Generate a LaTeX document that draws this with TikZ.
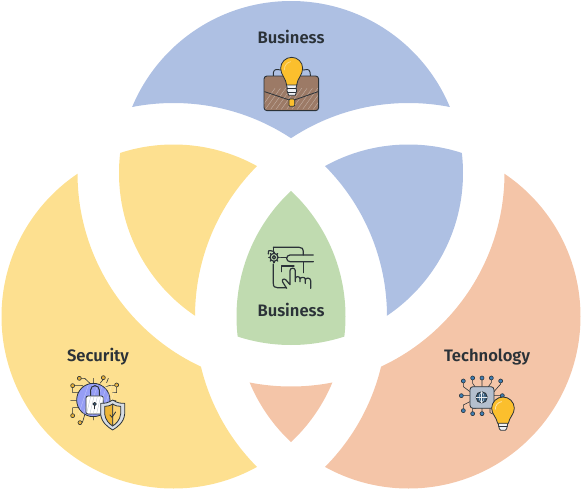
\documentclass[tikz,border=0pt]{standalone}
\usepackage{fontspec}
\setmainfont{Fira Sans}[BoldFont={Fira Sans SemiBold}]
\definecolor{cblue}{HTML}{AEC0E3}
\definecolor{cyel}{HTML}{FDE090}
\definecolor{corg}{HTML}{F4C5A8}
\definecolor{cgrn}{HTML}{C0DBB0}
\definecolor{ink}{HTML}{2B3238}
\definecolor{bulb}{HTML}{FBBF2D}
\definecolor{brown}{HTML}{9C7A66}
\definecolor{chip}{HTML}{B4BFCE}
\definecolor{netb}{HTML}{3F7FB5}
\newcommand{\inT}{\clip (291,173) circle (172);}
\newcommand{\inL}{\clip (173.5,316.5) circle (172);}
\newcommand{\inR}{\clip (408.5,316.5) circle (172);}
\newcommand{\outT}{\clip (-5,-5) rectangle (590,495) (291,173) circle (213.5);}
\newcommand{\outL}{\clip (-5,-5) rectangle (590,495) (173.5,316.5) circle (213.5);}
\newcommand{\outR}{\clip (-5,-5) rectangle (590,495) (408.5,316.5) circle (213.5);}
\newcommand{\allfill}[1]{\fill[#1] (-5,-5) rectangle (590,495);}
\tikzset{
 lbl/.style={font=\fontsize{16.6}{18}\selectfont\bfseries,text=ink,inner sep=0pt,anchor=center},
 icon/.style={x=0.3333pt,y=-0.3333pt,line join=round,line cap=round},
 ln/.style={draw=ink,line width=0.8pt},
 dot/.style={draw=ink,line width=0.6pt,fill=netb},
 hatch/.style={draw=white,line width=0.4pt,opacity=0.4},
 thin line/.style={draw=ink,line width=1.2pt}
}
\begin{document}
\begin{tikzpicture}[x=1pt,y=-1pt]
\useasboundingbox (0,0) rectangle (582,490);
% lobes
\begin{scope}[even odd rule]\inT\outL\outR\allfill{cblue}\end{scope}
\begin{scope}[even odd rule]\inT\inR\outL\allfill{cblue}\end{scope}
\begin{scope}[even odd rule]\inL\outT\outR\allfill{cyel}\end{scope}
\begin{scope}[even odd rule]\inL\inT\outR\allfill{cyel}\end{scope}
\begin{scope}[even odd rule]\inR\outT\outL\allfill{corg}\end{scope}
\begin{scope}[even odd rule]\inL\inR\outT\allfill{corg}\end{scope}
\begin{scope}\inT\inL\inR\allfill{cgrn}\end{scope}
% labels
\node[lbl] (lbusinessa) at (291,37) {Business};
\node[lbl] (lbusinessb) at (291,310) {Business};
\node[lbl] (lsecurity) at (98,357) {Security};
\node[lbl] (ltech) at (487,357.5) {Technology};
% briefcase icon
\begin{scope}[shift={(240,20)},icon]
 \draw[ln,line width=0.9pt] (100,172) -- (100,158) .. controls (102,146) and (112,148) .. (122,150);
 \draw[ln,line width=0.9pt] (212,172) -- (210,156) .. controls (208,146) and (198,148) .. (190,150);
 \begin{scope}
  \clip[rounded corners=3pt] (72,168) rectangle (236,272);
  \fill[brown] (72,168) rectangle (236,272);
  \foreach \k in {60,76,...,280}{
   \draw[hatch] (\k,268) -- (\k+45,205);
  }
 \end{scope}
 \draw[ln,line width=0.9pt,rounded corners=3pt] (72,168) rectangle (236,272);
 \draw[ln] (74,215) -- (148,240) (163,240) -- (234,215);
 \draw[ln,fill=bulb,rounded corners=1pt] (147,237) rectangle (164,259);
 \draw[ln,fill=white!80!chip] (139,192) -- (171,192) -- (168,205) -- (170,212) -- (166,226) -- (146,226) -- (141,212) -- (142,205) -- cycle;
 \draw[ln] (141,206) -- (169,206) (143,217) -- (167,217);
 \draw[ln,fill=bulb] (140,195) .. controls (138,175) and (122,165) .. (122,145) arc[start angle=180,end angle=360,radius=33] .. controls (188,165) and (172,175) .. (170,195) -- cycle;
 \draw[draw=white!40!bulb,line width=0.8pt] (133,150) .. controls (133,135) and (142,127) .. (152,125);
\end{scope}
% process icon
\begin{scope}[shift={(240,230)},icon]
 \draw[thin line] (102,82) circle (12);
 \draw[thin line] (102,82) circle (5);
 \foreach \a in {0,45,...,315}{\draw[thin line] (102,82) ++(\a:12) -- ++(\a:4);}
 \draw[thin line] (100,52) -- (178,52) .. controls (186,52) and (190,56) .. (190,64) -- (190,75);
 \draw[thin line] (100,64) .. controls (85,60) and (85,60) .. (85,72);
 \draw[thin line] (220,75) -- (150,75) arc[start angle=270,end angle=90,radius=10] -- (220,95);
 \draw[thin line] (122,82) -- (140,82);
 \draw[thin line] (190,95) -- (190,128);
 \draw[thin line] (100,102) -- (100,160) .. controls (100,170) and (104,173) .. (112,173) -- (138,173);
 \draw[thin line] (100,52) -- (100,64);
 \draw[thin line] (125,125) -- (125,108) -- (162,108);
 \draw[thin line] (140,175) -- (128,156) .. controls (124,148) and (132,144) .. (138,150) -- (150,164) -- (150,122) .. controls (150,112) and (166,112) .. (166,122) -- (166,155)
   -- (166,146) .. controls (166,138) and (180,138) .. (180,146) -- (180,155) -- (180,148) .. controls (180,140) and (196,140) .. (196,148) -- (196,160) -- (196,150) .. controls (196,142) and (212,142) .. (212,152) -- (212,175);
\end{scope}
% security icon
\begin{scope}[shift={(50,340)},icon]
 \draw[ln,line width=0.6pt]
  (120,130) -- (104,115) -- (94,115)
  (107,143) -- (95,136) -- (74,136)
  (86,158) -- (68,158) -- (68,143)
  (62,181) -- (80,181)
  (86,203) -- (68,203) -- (68,222)
  (105,222) -- (98,245) -- (96,248)
  (150,130) -- (160,118)
  (158,118) -- (162,113)
  (168,140) -- (180,136) -- (195,136)
  (130,115) -- (130,128)
  (175,115) -- (170,128)
  (188,158) -- (200,158) -- (200,140)
  (188,181) -- (198,181)
  (130,240) -- (130,232);
 \foreach \p in {(88,115),(68,137),(68,227),(90,248),(160,113),(200,135)}{\draw[dot,fill=bulb!80!brown] \p circle (6);}
 \draw[ln,fill=netb!30!blue!45!white] (130,180) circle (50);
 \foreach \k in {0,14,...,84}{\draw[hatch] (85+\k,225) -- (115+\k,135);}
 \draw[ln,line width=1pt] (122,170) -- (122,150) arc[start angle=180,end angle=360,radius=13] -- (148,170);
 \draw[ln,fill=white,rounded corners=2pt] (108,168) rectangle (160,222);
 \foreach \k in {0,10,...,40}{\draw[draw=chip,line width=0.3pt] (110+\k,220) -- (122+\k,170);}
 \draw[ln,fill=netb!60!ink] (134,192) circle (5);
 \draw[ln,draw=ink] (134,196) -- (134,206);
 \draw[ln,fill=chip!55!white] (188,180) .. controls (172,190) and (165,190) .. (152,190) -- (152,222) .. controls (154,248) and (175,262) .. (188,270) .. controls (201,262) and (222,248) .. (224,222) -- (224,190) .. controls (211,190) and (204,190) .. (188,180) -- cycle;
 \draw[ln,fill=bulb!85!brown] (188,192) .. controls (178,198) and (172,199) .. (164,199) -- (164,222) .. controls (166,240) and (178,252) .. (188,258) -- cycle;
 \draw[ln,fill=bulb!65!white] (188,192) .. controls (198,198) and (204,199) .. (212,199) -- (212,222) .. controls (210,240) and (198,252) .. (188,258) -- cycle;
 \draw[ln] (180,225) -- (186,232) -- (197,216);
\end{scope}
% technology icon
\begin{scope}[shift={(440,340)},icon]
 \draw[ln,line width=0.6pt]
  (70,123) -- (70,140) -- (90,155)
  (98,114) -- (98,130) -- (105,140)
  (126,114) -- (126,140)
  (154,114) -- (154,128) -- (145,140)
  (182,123) -- (182,132) -- (162,155)
  (64,167) -- (90,167)
  (70,212) -- (70,195) -- (90,185)
  (98,221) -- (98,205) -- (108,205)
  (126,221) -- (126,205)
  (187,167) -- (162,167)
  (150,205) -- (150,218) -- (158,222);
 \foreach \p in {(70,123),(98,114),(126,114),(154,114),(182,123),(64,167),(70,212),(98,221),(126,221),(187,167)}{\draw[dot] \p circle (6);}
 \draw[ln,fill=chip,rounded corners=3pt] (90,140) rectangle (162,205);
 \draw[ln,fill=netb!55!ink] (125,172) circle (17);
 \draw[draw=white!70!chip,line width=0.4pt] (125,155) -- (125,189) (108,172) -- (142,172);
 \draw[draw=white!70!chip,line width=0.4pt] (125,155) .. controls (115,165) and (115,179) .. (125,189) (125,155) .. controls (135,165) and (135,179) .. (125,189);
 \draw[ln,fill=white!80!chip] (174,248) -- (204,248) -- (200,266) -- (196,271) -- (182,271) -- (178,266) -- cycle;
 \draw[ln] (176,258) -- (202,258);
 \draw[ln,fill=bulb] (173,250) .. controls (170,232) and (155,222) .. (155,205) arc[start angle=180,end angle=360,radius=34] .. controls (223,222) and (208,232) .. (205,250) -- cycle;
 \draw[draw=white!60!bulb,line width=0.8pt,line cap=round] (166,208) .. controls (166,195) and (174,187) .. (185,185);
\end{scope}
\end{tikzpicture}
\end{document}
